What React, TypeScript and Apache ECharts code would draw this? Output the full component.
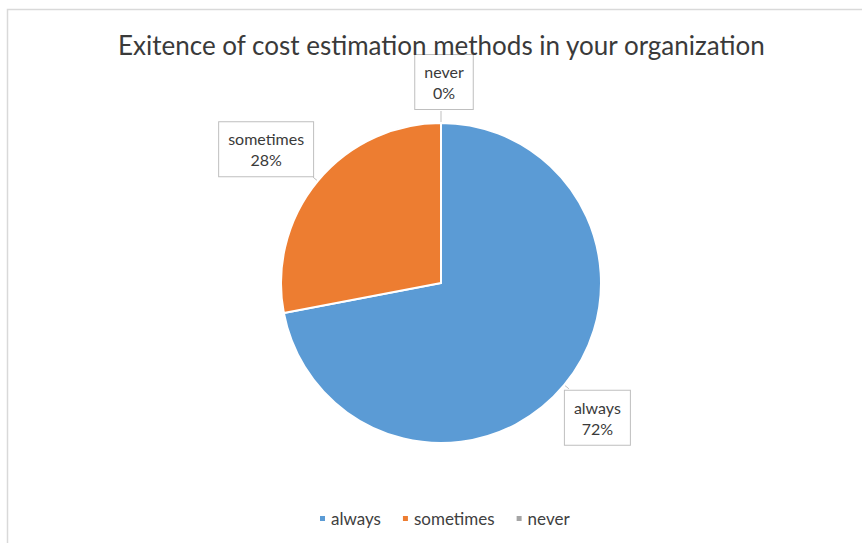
import React, { useEffect, useRef } from "react";
import * as echarts from "echarts";

const TITLE = "Exitence of cost estimation methods in your organization";
const categories = ["always", "sometimes", "never"];
const values = [72, 28, 0];
const colors = ["#5B9BD5", "#ED7D31", "#A5A5A5"];

export default function App() {
  const ref = useRef<HTMLDivElement>(null);
  useEffect(() => {
    if (!ref.current) return;
    const chart = echarts.init(ref.current, undefined, { renderer: "svg" });
    const font = "Lato, 'Noto Sans', sans-serif";
    const labelLens = [6, 6, 12];
    chart.setOption({
      animation: false,
      backgroundColor: "#ffffff",
      title: {
        text: TITLE,
        left: 113,
        top: 27,
        textStyle: { fontSize: 26, fontWeight: "normal", color: "#3a3a3a", fontFamily: font },
      },
      legend: {
        bottom: 11,
        left: 313,
        icon: "rect",
        itemWidth: 7,
        itemHeight: 7,
        itemGap: 20,
        data: categories,
        textStyle: { fontSize: 17, color: "#404040", fontFamily: font },
      },
      graphic: [
        {
          type: "rect",
          shape: { x: 7.5, y: 9.5, width: 900, height: 600 },
          style: { fill: "none", stroke: "#d9d9d9", lineWidth: 1.5 },
          silent: true,
        },
      ],
      series: [
        {
          type: "pie",
          center: [441, 283],
          radius: 160,
          startAngle: 90,
          clockwise: true,
          avoidLabelOverlap: false,
          itemStyle: { borderColor: "#ffffff", borderWidth: 2 },
          label: {
            show: true,
            position: "outside",
            formatter: (p: any) => `{a|${p.name}}\n{a|${Math.round(p.percent)}%}`,
            rich: {
              a: {
                fontSize: 16,
                fontFamily: font,
                color: "#3a3a3a",
                lineHeight: 21,
                align: "center",
              },
            },
            backgroundColor: "#ffffff",
            borderColor: "#bfbfbf",
            borderWidth: 1,
            padding: [6, 9],
            distanceToLabelLine: 3,
          },
          labelLine: {
            show: true,
            length: 6,
            length2: 0,
            lineStyle: { color: "#bfbfbf", width: 1 },
          },
          labelLayout: (params: any) => {
            const i = params.dataIndex;
            if (i === 0) return { verticalAlign: "top", dx: -7, dy: 2 };
            if (i === 1) return { verticalAlign: "bottom", dx: 3, dy: -1 };
            return { align: "center", verticalAlign: "bottom", dy: -2 };
          },
          data: categories.map((name, i) => ({
            name,
            value: values[i],
            itemStyle: { color: colors[i] },
            labelLine: { length: labelLens[i] },
          })),
        },
      ],
    });
    return () => chart.dispose();
  }, []);
  return (
    <div
      ref={ref}
      style={{ position: "fixed", left: 0, top: 0, width: 862, height: 543 }}
    />
  );
}
